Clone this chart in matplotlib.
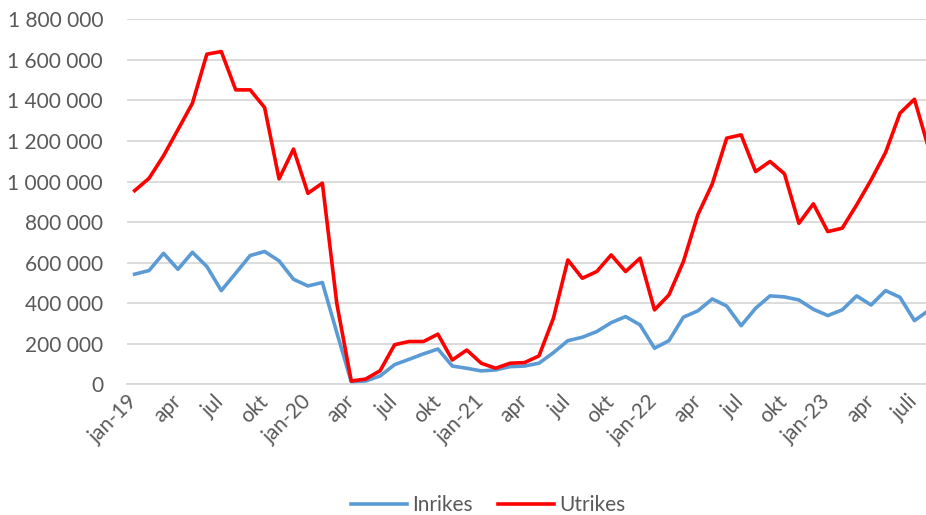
"""Inrikes och utrikes resor per månad, jan-19 till aug-23."""

import matplotlib
matplotlib.use("Agg")
import matplotlib.pyplot as plt
import matplotlib.transforms as mtransforms
from matplotlib.ticker import FuncFormatter


# Monthly values, jan-19 .. aug-23 (56 months)
months = [f"{m}-{y}" for y in range(19, 24) for m in range(1, 13)][:56]

inrikes = [
    543000, 561000, 646000, 567000, 651000, 581000, 462000, 548000, 635000, 655000, 609000, 518000,
    485000, 502000, 255000, 13000, 16000, 41000, 97000, 123000, 150000, 174000, 90000, 79000,
    66000, 71000, 87000, 90000, 104000, 156000, 215000, 232000, 260000, 304000, 334000, 293000,
    178000, 215000, 331000, 362000, 421000, 386000, 289000, 375000, 436000, 431000, 416000, 370000,
    339000, 367000, 436000, 391000, 462000, 429000, 314000, 365000,
]

utrikes = [
    955000, 1016000, 1127000, 1256000, 1386000, 1628000, 1641000, 1452000, 1452000, 1365000, 1013000, 1160000,
    942000, 992000, 398000, 16000, 26000, 67000, 195000, 211000, 211000, 247000, 120000, 169000,
    104000, 79000, 104000, 107000, 140000, 326000, 613000, 523000, 556000, 638000, 556000, 622000,
    367000, 441000, 605000, 836000, 988000, 1214000, 1230000, 1049000, 1099000, 1038000, 794000, 890000,
    753000, 770000, 885000, 1008000, 1143000, 1337000, 1406000, 1160000,
]

tick_labels = ["jan-19", "apr", "jul", "okt", "jan-20", "apr", "jul", "okt",
               "jan-21", "apr", "jul", "okt", "jan-22", "apr", "jul", "okt",
               "jan-23", "apr", "juli"]

BLUE = "#5B9BD5"
RED = "#FF0000"
GRID = "#D9D9D9"
TEXT = "#595959"

plt.rcParams["font.family"] = ["Lato", "DejaVu Sans"]

fig = plt.figure(figsize=(9.26, 5.15), dpi=100)
# plot area runs past the right edge, as in the cropped original
ax = fig.add_axes([0.1376, 0.2538, 0.8733, 0.7087])

x = list(range(len(months)))
ax.plot(x, inrikes, color=BLUE, linewidth=2.6, label="Inrikes",
        solid_joinstyle="round", zorder=3)
ax.plot(x, utrikes, color=RED, linewidth=2.6, label="Utrikes",
        solid_joinstyle="round", zorder=4)

ax.set_xlim(-0.5, len(months) - 0.5)
ax.set_ylim(0, 1800000)
ax.set_yticks(range(0, 1800001, 200000))
ax.yaxis.set_major_formatter(FuncFormatter(lambda v, _: f"{int(v):,}".replace(",", " ")))
ax.grid(axis="y", color=GRID, linewidth=1.3, zorder=0)
ax.set_axisbelow(True)

ax.set_xticks(x[::3])
ax.set_xticklabels(tick_labels, rotation=45, ha="right", va="center",
                   rotation_mode="anchor")
shift = mtransforms.ScaledTranslation(4 / 100, -6 / 100, fig.dpi_scale_trans)
for lbl in ax.get_xticklabels():
    lbl.set_transform(lbl.get_transform() + shift)

for side in ["top", "right", "left"]:
    ax.spines[side].set_visible(False)
ax.spines["bottom"].set_color(GRID)
ax.spines["bottom"].set_linewidth(1.3)

ax.tick_params(axis="both", length=0, labelsize=15, colors=TEXT)
ax.tick_params(axis="y", pad=17.5)
ax.tick_params(axis="x", pad=10)

fig.legend(loc="center", bbox_to_anchor=(488 / 926, 0.019), ncol=2, frameon=False,
           fontsize=15, labelcolor=TEXT, handlelength=2.7, handletextpad=0.25,
           columnspacing=1.2)

fig.savefig("out.png", dpi=100)
